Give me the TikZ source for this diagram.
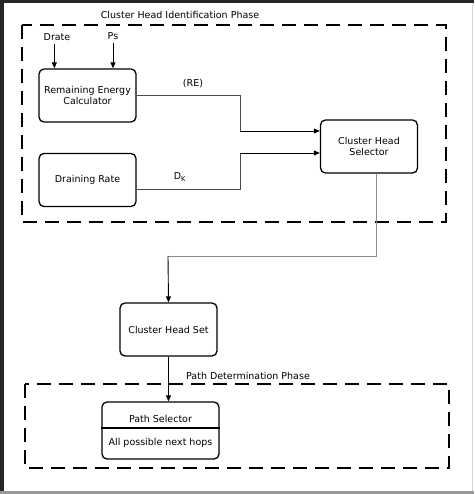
\documentclass[tikz,border=0pt]{standalone}
\usepackage{fontspec}
\setmainfont{DejaVu Sans}
\usetikzlibrary{arrows.meta}

\tikzset{
    procbox/.style={draw, rounded corners=5pt, line width=1.3pt, minimum width=97pt, minimum height=53pt, align=center, font=\fontsize{9.5}{11.5}\selectfont, inner sep=1pt},
    phase/.style={draw, line width=1.6pt, dash pattern=on 14pt off 8pt},
    feed/.style={-{Triangle[length=6pt,width=5pt]}, line width=0.9pt},
    link/.style={draw=black!70, line width=0.7pt},
    lbl/.style={font=\fontsize{9.5}{11.5}\selectfont, inner sep=0pt}
}

\begin{document}
\begin{tikzpicture}[x=1pt, y=-1pt]

\useasboundingbox (0,0) rectangle (474,494);

% frame of the scan
\fill[black!85] (0,0) rectangle (474,3);
\fill[black!85] (0,0) rectangle (4,494);
\fill[black!40] (0,491) rectangle (474,494);
\draw[black!15, line width=0.8pt] (472.5,3) -- (472.5,491);

% phases
\draw[phase] (22,25) rectangle (446,222);
\node[lbl] (phaseone) at (180,15) {Cluster Head Identification Phase};
\draw[phase] (25,384) rectangle (449,468);
\node[lbl] (phasetwo) at (248,376) {Path Determination Phase};

% blocks
\node[procbox] (energy) at (87.5,95.5) {Remaining Energy\\Calculator};
\node[procbox] (drain) at (87.5,180) {Draining Rate};
\node[procbox] (selector) at (369,146.5) {Cluster Head\\Selector};
\node[procbox] (chset) at (168.5,329.5) {Cluster Head Set};
\node[procbox, minimum width=117pt, minimum height=57pt] (pathsel) at (160.5,430.5) {};
\draw[line width=1.1pt] (pathsel.west |- 0,428) -- (pathsel.east |- 0,428);
\node[lbl] (pathtitle) at (160.5,419) {Path Selector};
\node[lbl] (pathhops) at (160.5,443) {All possible next hops};

% inputs
\node[lbl] (drate) at (57,37) {Drate};
\node[lbl] (ps) at (113,36) {Ps};
\draw[feed] (drate.south -| energy.north west) ++(16,3) coordinate (din) -- (din |- energy.north);
\draw[feed] (ps.south) ++(0,3) coordinate (pin) -- (pin |- energy.north);

% connectors
\node[lbl] (re) at (193,84) {(RE)};
\node[lbl] (dk) at (180,177) {D$_\mathrm{K}$};
\draw[link] (energy.east |- 0,95) -| (240,131) coordinate (rein);
\draw[feed] (rein) -- (rein -| selector.west);
\draw[link] (drain.east |- 0,189) -| (240,153) coordinate (dkin);
\draw[feed] (dkin) -- (dkin -| selector.west);
\draw[draw=black!45, line width=0.7pt] (selector.south -| 376,0) |- (168,256) coordinate (bend);
\draw[feed] (bend) -- (chset.north);
\draw[feed] (chset.south) -- (pathsel.north -| chset.south);

\end{tikzpicture}
\end{document}
